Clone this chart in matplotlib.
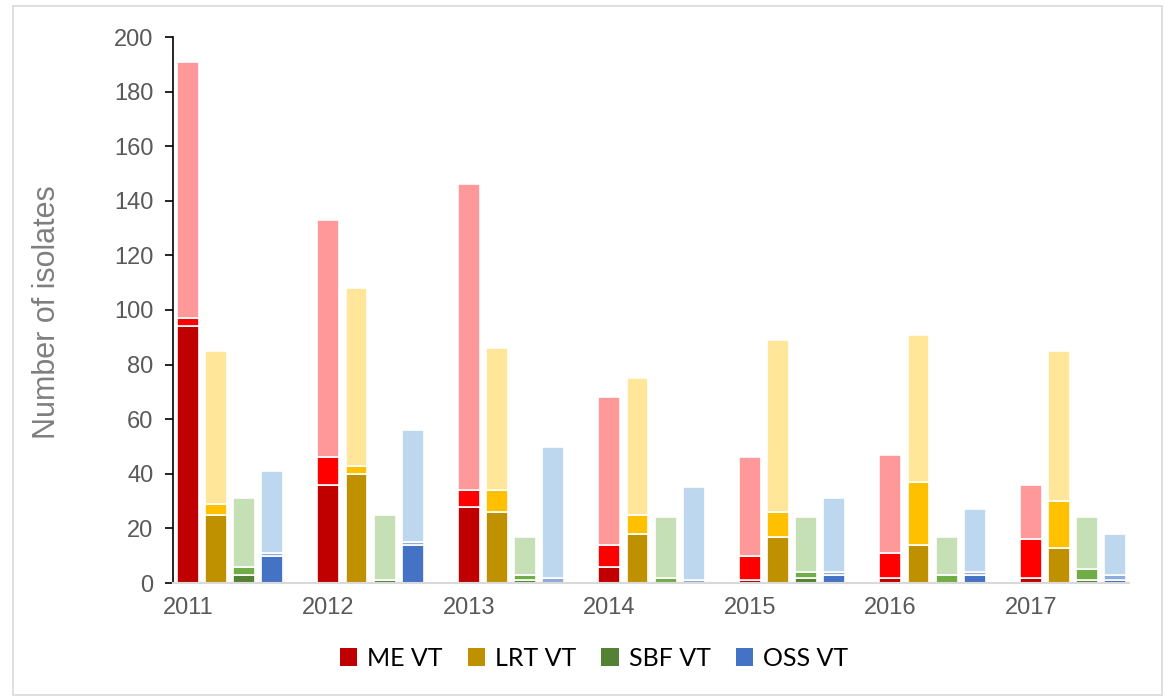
import numpy as np
import matplotlib
matplotlib.use("Agg")
import matplotlib.pyplot as plt
from matplotlib.patches import Rectangle, Patch

years = ["2011", "2012", "2013", "2014", "2015", "2016", "2017"]

# three stacked parts per bar: dark (bottom), medium, light (top)
me_dark = [94, 36, 28, 6, 1, 2, 2]
me_mid = [3, 10, 6, 8, 9, 9, 14]
me_light = [94, 87, 112, 54, 36, 36, 20]

lrt_dark = [25, 40, 26, 18, 17, 14, 13]
lrt_mid = [4, 3, 8, 7, 9, 23, 17]
lrt_light = [56, 65, 52, 50, 63, 54, 55]

sbf_dark = [3, 1, 1, 0, 2, 0, 1]
sbf_mid = [3, 0, 2, 2, 2, 3, 4]
sbf_light = [25, 24, 14, 22, 20, 14, 19]

oss_dark = [10, 14, 0, 0, 3, 3, 1]
oss_mid = [1, 1, 2, 1, 1, 1, 2]
oss_light = [30, 41, 48, 34, 27, 23, 15]

groups = ["ME VT", "LRT VT", "SBF VT", "OSS VT"]
stacks = [
    (me_dark, me_mid, me_light),
    (lrt_dark, lrt_mid, lrt_light),
    (sbf_dark, sbf_mid, sbf_light),
    (oss_dark, oss_mid, oss_light),
]
colors = [
    ("#C00000", "#FF0000", "#FF9999"),
    ("#BF9000", "#FFC000", "#FFE699"),
    ("#548235", "#70AD47", "#C5E0B4"),
    ("#4472C4", "#8FAADC", "#BDD7EE"),
]

W, H = 1165, 698
fig = plt.figure(figsize=(W / 100, H / 100), dpi=100)
ax = fig.add_axes([173 / W, 1 - 583 / H, (1129 - 173) / W, (583 - 37) / H])

base = np.arange(len(years)) * 5
for g, (parts, cols) in enumerate(zip(stacks, colors)):
    x = base + g
    bottom = np.zeros(len(years))
    for vals, c in zip(parts, cols):
        vals = np.array(vals, dtype=float)
        ax.bar(x, vals, width=0.78, bottom=bottom, color=c,
               edgecolor="white", linewidth=1.2, zorder=2)
        bottom += vals

ax.set_xlim(-0.53, 33.49)
ax.set_ylim(0, 200)
ax.set_yticks(range(0, 201, 20))
ax.set_xticks(base)
ax.set_xticklabels(years)

for lab in ax.get_xticklabels() + ax.get_yticklabels():
    lab.set_fontfamily("Liberation Sans")
    lab.set_fontsize(17)
    lab.set_color("#595959")

ax.tick_params(axis="x", length=0, pad=10)
ax.tick_params(axis="y", direction="out", length=6, width=1.2, color="black", pad=8)

for s in ["top", "right"]:
    ax.spines[s].set_visible(False)
ax.spines["left"].set_color("black")
ax.spines["left"].set_linewidth(1.2)
ax.spines["bottom"].set_color("#D9D9D9")
ax.spines["bottom"].set_linewidth(1.5)

fig.text(47 / W, 1 - 312 / H, "Number of isolates", rotation=90,
         ha="center", va="center", fontsize=22, color="#7F7F7F",
         fontfamily="Liberation Sans")

handles = [Patch(facecolor=c[0], edgecolor="none") for c in colors]
fig.legend(handles, groups, loc="center", bbox_to_anchor=(594 / W, 1 - 658 / H),
           ncol=4, frameon=False, prop={"family": "Lato", "size": 18},
           handlelength=0.7, handleheight=0.7, handletextpad=0.4,
           columnspacing=1.0)

# light frame around the whole chart
fig.patches.append(Rectangle((13 / W, 1 - 695 / H), (1162 - 13) / W, (695 - 6) / H,
                             transform=fig.transFigure, fill=False,
                             edgecolor="#D9D9D9", linewidth=1.2))

fig.savefig("out.png", dpi=100, facecolor="white")
